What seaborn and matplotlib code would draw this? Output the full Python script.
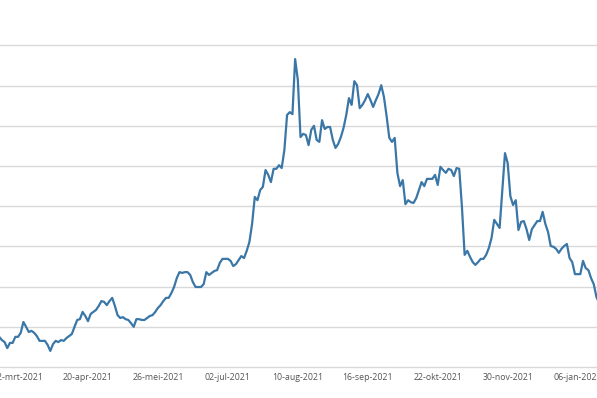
import matplotlib
matplotlib.use("Agg")
import matplotlib.pyplot as plt
import numpy as np
import pandas as pd
import seaborn as sns

# koers per handelsdag
waarden = [
    7.5, 6.7, 6.2, 4.7, 6.0, 6.0, 7.5, 7.5, 8.5, 11.2,
    10.0, 8.7, 9.0, 8.5, 7.7, 6.5, 6.5, 6.5, 5.5, 4.0,
    5.7, 6.5, 6.2, 6.7, 6.5, 7.2, 7.7, 8.2, 10.0, 11.7,
    11.9, 13.7, 12.7, 11.4, 13.2, 13.7, 14.2, 15.2, 16.4, 16.2,
    15.4, 16.4, 17.2, 15.2, 12.9, 12.2, 12.4, 11.9, 11.7, 10.9,
    10.0, 11.9, 11.9, 11.7, 11.7, 12.2, 12.7, 12.9, 13.7, 14.7,
    15.4, 16.4, 17.2, 17.2, 18.4, 19.9, 22.1, 23.6, 23.4, 23.6,
    23.6, 22.9, 21.1, 19.9, 19.9, 19.9, 20.6, 23.6, 22.9, 23.4,
    23.9, 24.1, 25.9, 26.9, 26.9, 26.9, 26.4, 25.1, 25.6, 26.6,
    27.6, 27.1, 28.9, 31.1, 35.6, 42.3, 41.5, 44.0, 44.8, 49.0,
    47.8, 46.0, 49.3, 49.3, 50.2, 49.5, 54.0, 62.7, 63.4, 62.9,
    76.6, 71.4, 57.2, 58.0, 57.7, 55.2, 59.0, 60.0, 56.5, 56.0,
    61.4, 59.2, 59.7, 59.7, 56.5, 54.5, 55.5, 57.2, 59.5, 62.7,
    66.9, 65.2, 71.1, 70.1, 64.4, 65.2, 66.4, 67.9, 66.4, 64.7,
    66.4, 67.9, 70.1, 67.2, 62.4, 57.0, 56.0, 57.0, 48.3, 45.0,
    46.5, 40.5, 41.5, 41.0, 40.8, 42.0, 44.0, 46.0, 45.0, 46.8,
    46.8, 46.8, 47.8, 45.3, 49.8, 49.0, 48.3, 49.3, 49.0, 47.5,
    49.5, 49.3, 39.8, 27.9, 28.9, 27.4, 26.1, 25.4, 26.1, 26.9,
    26.9, 27.9, 29.6, 32.1, 36.6, 35.6, 34.6, 44.0, 53.2, 50.7,
    42.5, 40.3, 41.5, 34.1, 36.1, 36.3, 34.3, 31.6, 34.3, 35.3,
    36.3, 36.3, 38.6, 35.6, 33.6, 30.1, 29.9, 29.4, 28.4, 29.4,
    30.1, 30.6, 27.1, 26.1, 23.1, 23.1, 23.1, 26.4, 24.6, 24.1,
    22.1, 20.6, 17.4, 15.9,
]

# datumlabels op de x-as
datums = ["12-mrt-2021", "20-apr-2021", "26-mei-2021", "02-jul-2021",
          "10-aug-2021", "16-sep-2021", "22-okt-2021", "30-nov-2021",
          "06-jan-2022"]
eerste_label = 7
label_stap = 26

kleur_lijn = '#3a77a7'
kleur_grid = '#d9d9d9'
kleur_tekst = '#555555'

df = pd.DataFrame({'punt': np.arange(len(waarden)), 'waarde': waarden})

sns.set_style("white")
plt.rcParams['font.family'] = ['Open Sans', 'DejaVu Sans']

fig = plt.figure(figsize=(5.97, 3.98), dpi=100)
ax = fig.add_axes([0, 31 / 398, 1, 367 / 398])

sns.lineplot(data=df, x='punt', y='waarde', ax=ax, color=kleur_lijn, linewidth=1.6)

# assen, grid
ax.set_xlim(0.3, 222.2)
ax.set_ylim(0, 91.3)
ax.set_yticks(np.arange(10, 81, 10))
ax.set_yticklabels([])
ax.yaxis.grid(True, color=kleur_grid, linewidth=1)
ax.tick_params(axis='y', length=0)

ax.set_xticks([eerste_label + label_stap * k for k in range(len(datums))])
ax.set_xticklabels(datums, fontsize=6.3, color=kleur_tekst)
ax.tick_params(axis='x', length=0, pad=4)
ax.set_xlabel('')
ax.set_ylabel('')

for s in ['left', 'right', 'top']:
    ax.spines[s].set_visible(False)
ax.spines['bottom'].set_color(kleur_grid)
ax.spines['bottom'].set_linewidth(1)

fig.savefig('out.png', dpi=100)
